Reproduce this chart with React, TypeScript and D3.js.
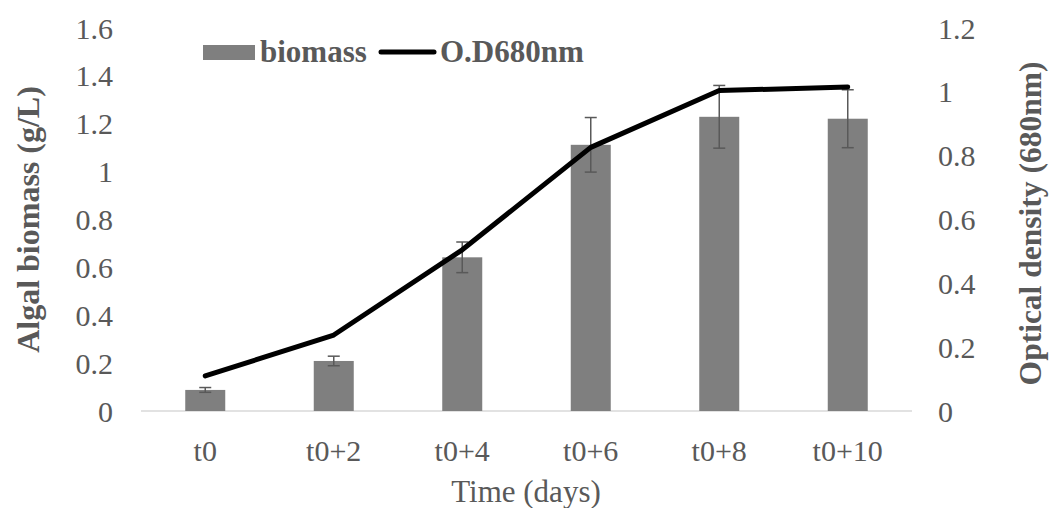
import React, { useEffect, useRef } from 'react'
import * as d3 from 'd3'

const days = ['t0', 't0+2', 't0+4', 't0+6', 't0+8', 't0+10']
const biomass = [0.088, 0.209, 0.642, 1.112, 1.229, 1.221]
const biomassErr = [0.01, 0.02, 0.064, 0.114, 0.131, 0.121]
const od680 = [0.11, 0.238, 0.505, 0.826, 1.004, 1.015]
const leftTicks = [0, 0.2, 0.4, 0.6, 0.8, 1, 1.2, 1.4, 1.6]
const rightTicks = [0, 0.2, 0.4, 0.6, 0.8, 1, 1.2]

export default function App() {
  const ref = useRef<SVGSVGElement>(null)

  useEffect(() => {
    const svg = d3.select(ref.current)
    svg.selectAll('*').remove()

    const width = 1050, height = 508
    const left = 141, right = 912, top = 28, bottom = 411
    const font = '"Liberation Serif", "Times New Roman", serif'
    const textColor = '#595959'

    const x = d3.scaleBand().domain(days).range([left, right])
    const yL = d3.scaleLinear().domain([0, 1.6]).range([bottom, top])
    const yR = d3.scaleLinear().domain([0, 1.2]).range([bottom, top])
    const barW = 40

    // axis baseline
    svg.append('line')
      .attr('x1', left).attr('x2', right)
      .attr('y1', bottom).attr('y2', bottom)
      .attr('stroke', '#d9d9d9').attr('stroke-width', 1.5)

    // bars
    svg.append('g').selectAll('rect')
      .data(biomass)
      .enter()
      .append('rect')
      .attr('x', (d, i) => x(days[i])! + x.bandwidth() / 2 - barW / 2)
      .attr('y', d => yL(d))
      .attr('width', barW)
      .attr('height', d => bottom - yL(d))
      .attr('fill', '#7f7f7f')

    // error bars
    const eg = svg.append('g').attr('stroke', '#595959').attr('stroke-width', 1.5)
    biomass.forEach((d, i) => {
      const cx = x(days[i])! + x.bandwidth() / 2
      const y1 = yL(d + biomassErr[i]), y2 = yL(d - biomassErr[i])
      eg.append('line').attr('x1', cx).attr('x2', cx).attr('y1', y1).attr('y2', y2)
      eg.append('line').attr('x1', cx - 6).attr('x2', cx + 6).attr('y1', y1).attr('y2', y1)
      eg.append('line').attr('x1', cx - 6).attr('x2', cx + 6).attr('y1', y2).attr('y2', y2)
    })

    // OD line
    const line = d3.line<number>()
      .x((d, i) => x(days[i])! + x.bandwidth() / 2)
      .y(d => yR(d))
    svg.append('path')
      .datum(od680)
      .attr('d', line)
      .attr('fill', 'none')
      .attr('stroke', '#000')
      .attr('stroke-width', 5)
      .attr('stroke-linecap', 'round')
      .attr('stroke-linejoin', 'round')

    // left ticks
    svg.append('g').selectAll('text')
      .data(leftTicks)
      .enter()
      .append('text')
      .attr('x', 113)
      .attr('y', d => yL(d))
      .attr('dy', '0.35em')
      .attr('text-anchor', 'end')
      .attr('font-family', font)
      .attr('font-size', 30)
      .attr('fill', textColor)
      .text(d => String(d))

    // right ticks
    svg.append('g').selectAll('text')
      .data(rightTicks)
      .enter()
      .append('text')
      .attr('x', 938)
      .attr('y', d => yR(d))
      .attr('dy', '0.35em')
      .attr('text-anchor', 'start')
      .attr('font-family', font)
      .attr('font-size', 30)
      .attr('fill', textColor)
      .text(d => String(d))

    // x ticks
    svg.append('g').selectAll('text')
      .data(days)
      .enter()
      .append('text')
      .attr('x', d => x(d)! + x.bandwidth() / 2)
      .attr('y', 450)
      .attr('dy', '0.35em')
      .attr('text-anchor', 'middle')
      .attr('font-family', font)
      .attr('font-size', 30)
      .attr('fill', textColor)
      .text(d => d)

    // axis titles
    svg.append('text')
      .attr('x', 526).attr('y', 502)
      .attr('text-anchor', 'middle')
      .attr('font-family', font)
      .attr('font-size', 31)
      .attr('fill', textColor)
      .text('Time (days)')

    svg.append('text')
      .attr('transform', `translate(28,${(top + bottom) / 2}) rotate(-90)`)
      .attr('dy', '0.35em')
      .attr('text-anchor', 'middle')
      .attr('font-family', font)
      .attr('font-size', 32)
      .attr('font-weight', 'bold')
      .attr('fill', textColor)
      .text('Algal biomass (g/L)')

    svg.append('text')
      .attr('transform', `translate(1030,${(top + bottom) / 2 + 4}) rotate(-90)`)
      .attr('dy', '0.35em')
      .attr('text-anchor', 'middle')
      .attr('font-family', font)
      .attr('font-size', 31.5)
      .attr('font-weight', 'bold')
      .attr('fill', textColor)
      .text('Optical density (680nm)')

    // legend
    const lg = svg.append('g')
    lg.append('rect')
      .attr('x', 203).attr('y', 45).attr('width', 52).attr('height', 15)
      .attr('fill', '#7f7f7f')
    lg.append('text')
      .attr('x', 260).attr('y', 62)
      .attr('font-family', font).attr('font-size', 31).attr('font-weight', 'bold')
      .attr('fill', textColor)
      .text('biomass')
    lg.append('line')
      .attr('x1', 381).attr('x2', 434).attr('y1', 52).attr('y2', 52)
      .attr('stroke', '#000').attr('stroke-width', 5).attr('stroke-linecap', 'round')
    lg.append('text')
      .attr('x', 440).attr('y', 62)
      .attr('font-family', font).attr('font-size', 31).attr('font-weight', 'bold')
      .attr('fill', textColor)
      .text('O.D680nm')

    svg.attr('width', width).attr('height', height)
  }, [])

  return <svg ref={ref} style={{ position: 'absolute', left: 0, top: 0 }} />
}
